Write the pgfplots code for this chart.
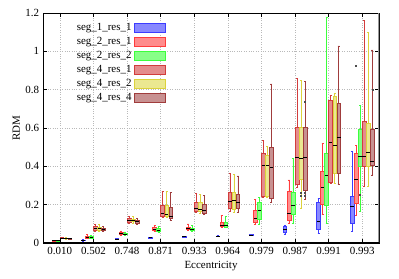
\documentclass[border=0pt]{standalone}
\usepackage{pgfplots}
\pgfplotsset{compat=1.18}
\usepgfplotslibrary{statistics}
\usepackage{fontspec}
\setmainfont{Liberation Serif}
\definecolor{c1d}{RGB}{60,60,255}\definecolor{c1f}{RGB}{136,136,255}
\definecolor{c2d}{RGB}{255,60,60}\definecolor{c2f}{RGB}{255,140,140}
\definecolor{c3d}{RGB}{60,255,60}\definecolor{c3f}{RGB}{136,255,136}
\definecolor{c4d}{RGB}{210,60,60}\definecolor{c4f}{RGB}{228,140,140}
\definecolor{c5d}{RGB}{220,210,60}\definecolor{c5f}{RGB}{235,232,145}
\definecolor{c6d}{RGB}{160,60,60}\definecolor{c6f}{RGB}{200,145,145}
\pgfplotsset{
 s1/.style={draw=c1d, fill=c1f, forget plot, line width=0.6pt},
 s2/.style={draw=c2d, fill=c2f, forget plot, line width=0.6pt},
 s3/.style={draw=c3d, fill=c3f, forget plot, line width=0.6pt},
 s4/.style={draw=c4d, fill=c4f, forget plot, line width=0.6pt},
 s5/.style={draw=c5d, fill=c5f, forget plot, line width=0.6pt},
 s6/.style={draw=c6d, fill=c6f, forget plot, line width=0.6pt},
 legbox/.style={legend image code/.code={\draw[##1, line width=0.8pt] (0bp,-4.5bp) rectangle (31bp,4.5bp);}},
}
\begin{document}
\fontsize{11}{13}\selectfont
\begin{tikzpicture}
\begin{axis}[
 scale only axis, width=336bp, height=230bp,
 xmin=-0.5, xmax=9.5, ymin=0, ymax=1.2,
 xtick={0,...,9},
 xticklabels={0.010,0.502,0.748,0.871,0.933,0.964,0.979,0.987,0.991,0.993},
 ytick={0,0.2,0.4,0.6,0.8,1,1.2},
 /pgf/number format/assume math mode=true,
 tick align=inside, major tick length=4bp,
 tick style={black, line width=0.6pt},
 grid=major, grid style={dotted, gray!55, line width=0.5pt},
 axis line style={line width=0.8bp},
 xlabel={Eccentricity}, ylabel={RDM},
 tick label style={font=\fontsize{11}{13}\selectfont},
 label style={font=\fontsize{11}{13}\selectfont},
 xlabel style={yshift=1bp},
 ylabel style={yshift=-2bp},
 boxplot/draw direction=y,
 boxplot/box extend=0.11,
 boxplot/whisker extend=0.06,
 boxplot/every median/.style={draw=black, line width=0.9pt},
 legend plot pos=right,
 legend cell align=right,
 legend style={at={(rel axis cs:0.085,0.975)}, anchor=north west, draw=none, fill=none,
   row sep=0pt, font=\fontsize{11}{13}\selectfont,
   nodes={inner sep=2bp, text height=8bp, text depth=2bp}},
]
\addlegendimage{legbox, draw=c1d, fill=c1f}\addlegendentry{seg\_1\_res\_1}
\addlegendimage{legbox, draw=c2d, fill=c2f}\addlegendentry{seg\_2\_res\_1}
\addlegendimage{legbox, draw=c3d, fill=c3f}\addlegendentry{seg\_2\_res\_2}
\addlegendimage{legbox, draw=c4d, fill=c4f}\addlegendentry{seg\_4\_res\_1}
\addlegendimage{legbox, draw=c5d, fill=c5f}\addlegendentry{seg\_4\_res\_2}
\addlegendimage{legbox, draw=c6d, fill=c6f}\addlegendentry{seg\_4\_res\_4}
% category 0: 0.010
\addplot[s1, boxplot prepared={draw position=-0.30, lower whisker=0.001, lower quartile=0.002, median=0.003, upper quartile=0.004, upper whisker=0.005}] coordinates {};
\addplot[s2, boxplot prepared={draw position=-0.18, lower whisker=0.008, lower quartile=0.010, median=0.011, upper quartile=0.013, upper whisker=0.015}] coordinates {};
\addplot[s3, boxplot prepared={draw position=-0.06, lower whisker=0.008, lower quartile=0.010, median=0.011, upper quartile=0.013, upper whisker=0.015}] coordinates {};
\addplot[s4, boxplot prepared={draw position=0.06, lower whisker=0.022, lower quartile=0.024, median=0.026, upper quartile=0.028, upper whisker=0.030}] coordinates {};
\addplot[s5, boxplot prepared={draw position=0.18, lower whisker=0.020, lower quartile=0.022, median=0.024, upper quartile=0.026, upper whisker=0.028}] coordinates {};
\addplot[s6, boxplot prepared={draw position=0.30, lower whisker=0.018, lower quartile=0.020, median=0.022, upper quartile=0.024, upper whisker=0.026}] coordinates {};
% category 1: 0.502
\addplot[s1, boxplot prepared={draw position=0.70, lower whisker=0.011, lower quartile=0.013, median=0.014, upper quartile=0.016, upper whisker=0.018}] coordinates {};
\addplot[s2, boxplot prepared={draw position=0.82, lower whisker=0.022, lower quartile=0.027, median=0.031, upper quartile=0.037, upper whisker=0.045}] coordinates {};
\addplot[s3, boxplot prepared={draw position=0.94, lower whisker=0.022, lower quartile=0.026, median=0.029, upper quartile=0.033, upper whisker=0.040}] coordinates {};
\addplot[s4, boxplot prepared={draw position=1.06, lower whisker=0.060, lower quartile=0.066, median=0.075, upper quartile=0.085, upper whisker=0.095}] coordinates {};
\addplot[s5, boxplot prepared={draw position=1.18, lower whisker=0.062, lower quartile=0.068, median=0.074, upper quartile=0.082, upper whisker=0.095}] coordinates {};
\addplot[s6, boxplot prepared={draw position=1.30, lower whisker=0.060, lower quartile=0.064, median=0.069, upper quartile=0.076, upper whisker=0.085}] coordinates {};
% category 2: 0.748
\addplot[s1, boxplot prepared={draw position=1.70, lower whisker=0.018, lower quartile=0.020, median=0.021, upper quartile=0.022, upper whisker=0.024}] coordinates {};
\addplot[s2, boxplot prepared={draw position=1.82, lower whisker=0.042, lower quartile=0.046, median=0.050, upper quartile=0.056, upper whisker=0.063}] coordinates {};
\addplot[s3, boxplot prepared={draw position=1.94, lower whisker=0.040, lower quartile=0.044, median=0.047, upper quartile=0.051, upper whisker=0.058}] coordinates {};
\addplot[s4, boxplot prepared={draw position=2.06, lower whisker=0.105, lower quartile=0.110, median=0.118, upper quartile=0.128, upper whisker=0.138}] coordinates {};
\addplot[s5, boxplot prepared={draw position=2.18, lower whisker=0.105, lower quartile=0.111, median=0.118, upper quartile=0.126, upper whisker=0.140}] coordinates {};
\addplot[s6, boxplot prepared={draw position=2.30, lower whisker=0.098, lower quartile=0.103, median=0.110, upper quartile=0.118, upper whisker=0.128}] coordinates {};
% category 3: 0.871
\addplot[s1, boxplot prepared={draw position=2.70, lower whisker=0.025, lower quartile=0.027, median=0.028, upper quartile=0.029, upper whisker=0.031}] coordinates {};
\addplot[s2, boxplot prepared={draw position=2.82, lower whisker=0.060, lower quartile=0.064, median=0.072, upper quartile=0.082, upper whisker=0.092}] coordinates {};
\addplot[s3, boxplot prepared={draw position=2.94, lower whisker=0.055, lower quartile=0.059, median=0.068, upper quartile=0.078, upper whisker=0.086}] coordinates {};
\addplot[s4, boxplot prepared={draw position=3.06, lower whisker=0.135, lower quartile=0.140, median=0.152, upper quartile=0.198, upper whisker=0.270}] coordinates {};
\addplot[s5, boxplot prepared={draw position=3.18, lower whisker=0.135, lower quartile=0.140, median=0.148, upper quartile=0.198, upper whisker=0.270}] coordinates {};
\addplot[s6, boxplot prepared={draw position=3.30, lower whisker=0.120, lower quartile=0.128, median=0.140, upper quartile=0.188, upper whisker=0.265}] coordinates {};
% category 4: 0.933
\addplot[s1, boxplot prepared={draw position=3.70, lower whisker=0.030, lower quartile=0.032, median=0.033, upper quartile=0.034, upper whisker=0.036}] coordinates {};
\addplot[s2, boxplot prepared={draw position=3.82, lower whisker=0.068, lower quartile=0.072, median=0.078, upper quartile=0.083, upper whisker=0.100}] coordinates {};
\addplot[s3, boxplot prepared={draw position=3.94, lower whisker=0.062, lower quartile=0.066, median=0.072, upper quartile=0.078, upper whisker=0.090}] coordinates {};
\addplot[s4, boxplot prepared={draw position=4.06, lower whisker=0.160, lower quartile=0.165, median=0.178, upper quartile=0.210, upper whisker=0.260}] coordinates {};
\addplot[s5, boxplot prepared={draw position=4.18, lower whisker=0.155, lower quartile=0.165, median=0.176, upper quartile=0.210, upper whisker=0.255}] coordinates {};
\addplot[s6, boxplot prepared={draw position=4.30, lower whisker=0.150, lower quartile=0.155, median=0.168, upper quartile=0.200, upper whisker=0.250}] coordinates {};
% category 5: 0.964
\addplot[s1, boxplot prepared={draw position=4.70, lower whisker=0.034, lower quartile=0.035, median=0.036, upper quartile=0.037, upper whisker=0.038}] coordinates {};
\addplot[s2, boxplot prepared={draw position=4.82, lower whisker=0.082, lower quartile=0.085, median=0.093, upper quartile=0.110, upper whisker=0.145}] coordinates {};
\addplot[s3, boxplot prepared={draw position=4.94, lower whisker=0.080, lower quartile=0.083, median=0.090, upper quartile=0.110, upper whisker=0.140}] coordinates {};
\addplot[s4, boxplot prepared={draw position=5.06, lower whisker=0.165, lower quartile=0.180, median=0.215, upper quartile=0.265, upper whisker=0.365}] coordinates {};
\addplot[s5, boxplot prepared={draw position=5.18, lower whisker=0.160, lower quartile=0.175, median=0.220, upper quartile=0.265, upper whisker=0.360}] coordinates {};
\addplot[s6, boxplot prepared={draw position=5.30, lower whisker=0.158, lower quartile=0.180, median=0.213, upper quartile=0.255, upper whisker=0.350}] coordinates {};
% category 6: 0.979
\addplot[s1, boxplot prepared={draw position=5.70, lower whisker=0.040, lower quartile=0.041, median=0.042, upper quartile=0.043, upper whisker=0.045}] coordinates {};
\addplot[s2, boxplot prepared={draw position=5.82, lower whisker=0.100, lower quartile=0.110, median=0.127, upper quartile=0.172, upper whisker=0.228}] coordinates {};
\addplot[s3, boxplot prepared={draw position=5.94, lower whisker=0.100, lower quartile=0.125, median=0.172, upper quartile=0.214, upper whisker=0.238}] coordinates {};
\addplot[s4, boxplot prepared={draw position=6.06, lower whisker=0.238, lower quartile=0.243, median=0.407, upper quartile=0.470, upper whisker=0.537}] coordinates {};
\addplot[s5, boxplot prepared={draw position=6.18, lower whisker=0.240, lower quartile=0.246, median=0.407, upper quartile=0.460, upper whisker=0.506}] coordinates {};
\addplot[s6, boxplot prepared={draw position=6.30, lower whisker=0.212, lower quartile=0.233, median=0.395, upper quartile=0.500, upper whisker=0.830}] coordinates {};
% category 7: 0.987
\addplot[s1, boxplot prepared={draw position=6.70, lower whisker=0.047, lower quartile=0.055, median=0.070, upper quartile=0.085, upper whisker=0.092}] coordinates {};
\addplot[s2, boxplot prepared={draw position=6.82, lower whisker=0.103, lower quartile=0.116, median=0.155, upper quartile=0.268, upper whisker=0.329}] coordinates {};
\addplot[s3, boxplot prepared={draw position=6.94, lower whisker=0.103, lower quartile=0.151, median=0.197, upper quartile=0.266, upper whisker=0.442}] coordinates {};
\addplot[s4, boxplot prepared={draw position=7.06, lower whisker=0.290, lower quartile=0.308, median=0.447, upper quartile=0.605, upper whisker=0.860}] coordinates {};
\addplot[s5, boxplot prepared={draw position=7.18, lower whisker=0.183, lower quartile=0.334, median=0.442, upper quartile=0.605, upper whisker=0.850}] coordinates {};
\addplot[s6, boxplot prepared={draw position=7.30, lower whisker=0.228, lower quartile=0.275, median=0.447, upper quartile=0.605, upper whisker=0.845}] coordinates {};
% category 8: 0.991
\addplot[s1, boxplot prepared={draw position=7.70, lower whisker=0.050, lower quartile=0.071, median=0.115, upper quartile=0.210, upper whisker=0.233}] coordinates {};
\addplot[s2, boxplot prepared={draw position=7.82, lower whisker=0.151, lower quartile=0.200, median=0.292, upper quartile=0.375, upper whisker=0.520}] coordinates {};
\addplot[s3, boxplot prepared={draw position=7.94, lower whisker=0.103, lower quartile=0.195, median=0.351, upper quartile=0.468, upper whisker=1.180}] coordinates {};
\addplot[s4, boxplot prepared={draw position=8.06, lower whisker=0.310, lower quartile=0.317, median=0.523, upper quartile=0.746, upper whisker=0.772}] coordinates {};
\addplot[s5, boxplot prepared={draw position=8.18, lower whisker=0.310, lower quartile=0.364, median=0.510, upper quartile=0.767, upper whisker=0.780}] coordinates {};
\addplot[s6, boxplot prepared={draw position=8.30, lower whisker=0.308, lower quartile=0.364, median=0.552, upper quartile=0.729, upper whisker=1.028}] coordinates {};
% category 9: 0.993
\addplot[s1, boxplot prepared={draw position=8.70, lower whisker=0.059, lower quartile=0.103, median=0.190, upper quartile=0.242, upper whisker=0.480}] coordinates {};
\addplot[s2, boxplot prepared={draw position=8.82, lower whisker=0.146, lower quartile=0.207, median=0.332, upper quartile=0.468, upper whisker=0.511}] coordinates {};
\addplot[s3, boxplot prepared={draw position=8.94, lower whisker=0.163, lower quartile=0.398, median=0.450, upper quartile=0.595, upper whisker=0.720}] coordinates {};
\addplot[s4, boxplot prepared={draw position=9.06, lower whisker=0.294, lower quartile=0.398, median=0.450, upper quartile=0.633, upper whisker=1.163}] coordinates {};
\addplot[s5, boxplot prepared={draw position=9.18, lower whisker=0.295, lower quartile=0.398, median=0.471, upper quartile=0.624, upper whisker=1.100}] coordinates {};
\addplot[s6, boxplot prepared={draw position=9.30, lower whisker=0.355, lower quartile=0.407, median=0.424, upper quartile=0.593, upper whisker=1.007}] coordinates {};
% outliers
\addplot[only marks, mark=square*, mark size=0.5pt, black!70, forget plot] coordinates {
 (7.18,0.26) (7.18,0.245) (7.30,0.26) (7.30,0.245) (7.30,0.735) (8.82,0.925) (9.30,0.80) (8.94,0.25)
};
\draw[gray!80, line width=2bp] (rel axis cs:1,0) -- (rel axis cs:1,1);
\draw[black, line width=1.6bp] (rel axis cs:0,0) -- (rel axis cs:1,0);
\end{axis}
\pgfresetboundingbox
\path ([xshift=-43bp,yshift=-36bp]current axis.south west) rectangle ([xshift=20bp,yshift=13bp]current axis.north east);
\end{tikzpicture}
\end{document}
